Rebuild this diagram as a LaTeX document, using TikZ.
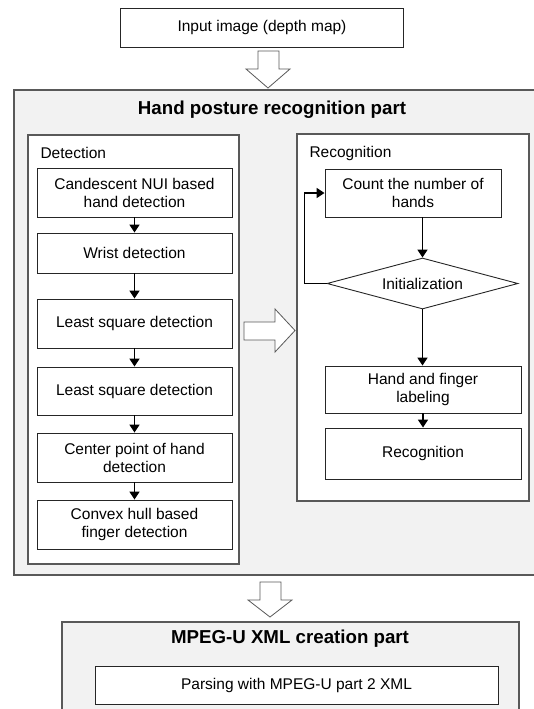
\documentclass[tikz,border=0pt]{standalone}
\usepackage{fontspec}
\setmainfont{Liberation Sans}
\usetikzlibrary{arrows.meta,shapes.geometric}
\definecolor{partgray}{HTML}{F2F2F2}
\definecolor{framegray}{HTML}{595959}

\tikzset{
  stepbox/.style={draw=black!85, line width=0.9pt, fill=white, align=center, inner sep=2pt},
  frame/.style={draw=framegray, line width=1.4pt},
  flow/.style={line width=1.6pt, -{Triangle[length=8pt,width=10pt]}},
  hollow/.style={draw=framegray, line width=0.8pt, fill=white},
}

\begin{document}
\begin{tikzpicture}[x=1pt,y=-1pt,font=\fontsize{15.5}{18}\selectfont]
    \useasboundingbox (0,0) rectangle (533,709);
    \node[stepbox, minimum width=283pt, minimum height=39pt] (input) at (262,27.5) {Input image (depth map)};
    \draw[hollow] (258,51) -- (279,51) -- (279,69) -- (290,69) -- (268,88) -- (246,69) -- (258,69) -- cycle;

    % hand posture recognition part
    \fill[partgray] (14,90) rectangle (545,575);
    \draw[frame] (14,90) rectangle (545,575);
    \node[font=\fontsize{18.7}{22}\selectfont\bfseries] (handtitle) at (272,110) {Hand posture recognition part};

    \draw[frame, fill=white] (28,135) rectangle (239,564);
    \node[anchor=west] (detlabel) at (37,153) {Detection};
    \node[stepbox, minimum width=195pt, minimum height=49pt] (hand) at (134.5,192.5) {Candescent NUI based\\hand detection};
    \node[stepbox, minimum width=195pt, minimum height=40pt] (wrist) at (134.5,253) {Wrist detection};
    \node[stepbox, minimum width=195pt, minimum height=49pt] (lsqa) at (134.5,323.5) {Least square detection};
    \node[stepbox, minimum width=195pt, minimum height=48pt] (lsqb) at (134.5,391) {Least square detection};
    \node[stepbox, minimum width=195pt, minimum height=49pt] (center) at (134.5,457.5) {Center point of hand\\detection};
    \node[stepbox, minimum width=195pt, minimum height=49pt] (hull) at (134.5,524.5) {Convex hull based\\finger detection};
    \draw[flow] (hand) -- (wrist);
    \draw[flow] (wrist) -- (lsqa);
    \draw[flow] (lsqa) -- (lsqb);
    \draw[flow] (lsqb) -- (center);
    \draw[flow] (center) -- (hull);

    \draw[hollow] (244,322) -- (275,322) -- (275,309) -- (295,330.5) -- (275,352) -- (275,340) -- (244,340) -- cycle;

    \draw[frame, fill=white] (297,134) rectangle (529,501);
    \node[anchor=west] (reclabel) at (306,153) {Recognition};
    \node[stepbox, minimum width=176pt, minimum height=48pt] (count) at (413,193) {Count the number of\\hands};
    \node[stepbox, diamond, inner sep=0pt, aspect=3.75, minimum width=191pt, minimum height=51pt] (init) at (422.5,283.5) {Initialization};
    \node[stepbox, minimum width=196pt, minimum height=47pt] (labeling) at (423,389.5) {Hand and finger\\labeling};
    \node[stepbox, minimum width=196pt, minimum height=51pt] (recog) at (423,453.5) {Recognition};
    \draw[flow] (init.north |- count.south) -- (init.north);
    \draw[flow] (init.south) -- (init.south |- labeling.north);
    \draw[flow] (labeling) -- (recog);
    \draw[flow] (init.west) -- ++(-22,0) |- (count.west);

    \draw[hollow] (260,582) -- (281,582) -- (281,600) -- (292,600) -- (270,617) -- (248,600) -- (260,600) -- cycle;

    % MPEG-U XML creation part
    \draw[frame, fill=partgray] (62,622) rectangle (519,725);
    \node[font=\fontsize{18.7}{22}\selectfont\bfseries] (xmltitle) at (290,639) {MPEG-U XML creation part};
    \node[stepbox, minimum width=403pt, minimum height=38pt] (parsing) at (296.5,685) {Parsing with MPEG-U part 2 XML};
\end{tikzpicture}
\end{document}
